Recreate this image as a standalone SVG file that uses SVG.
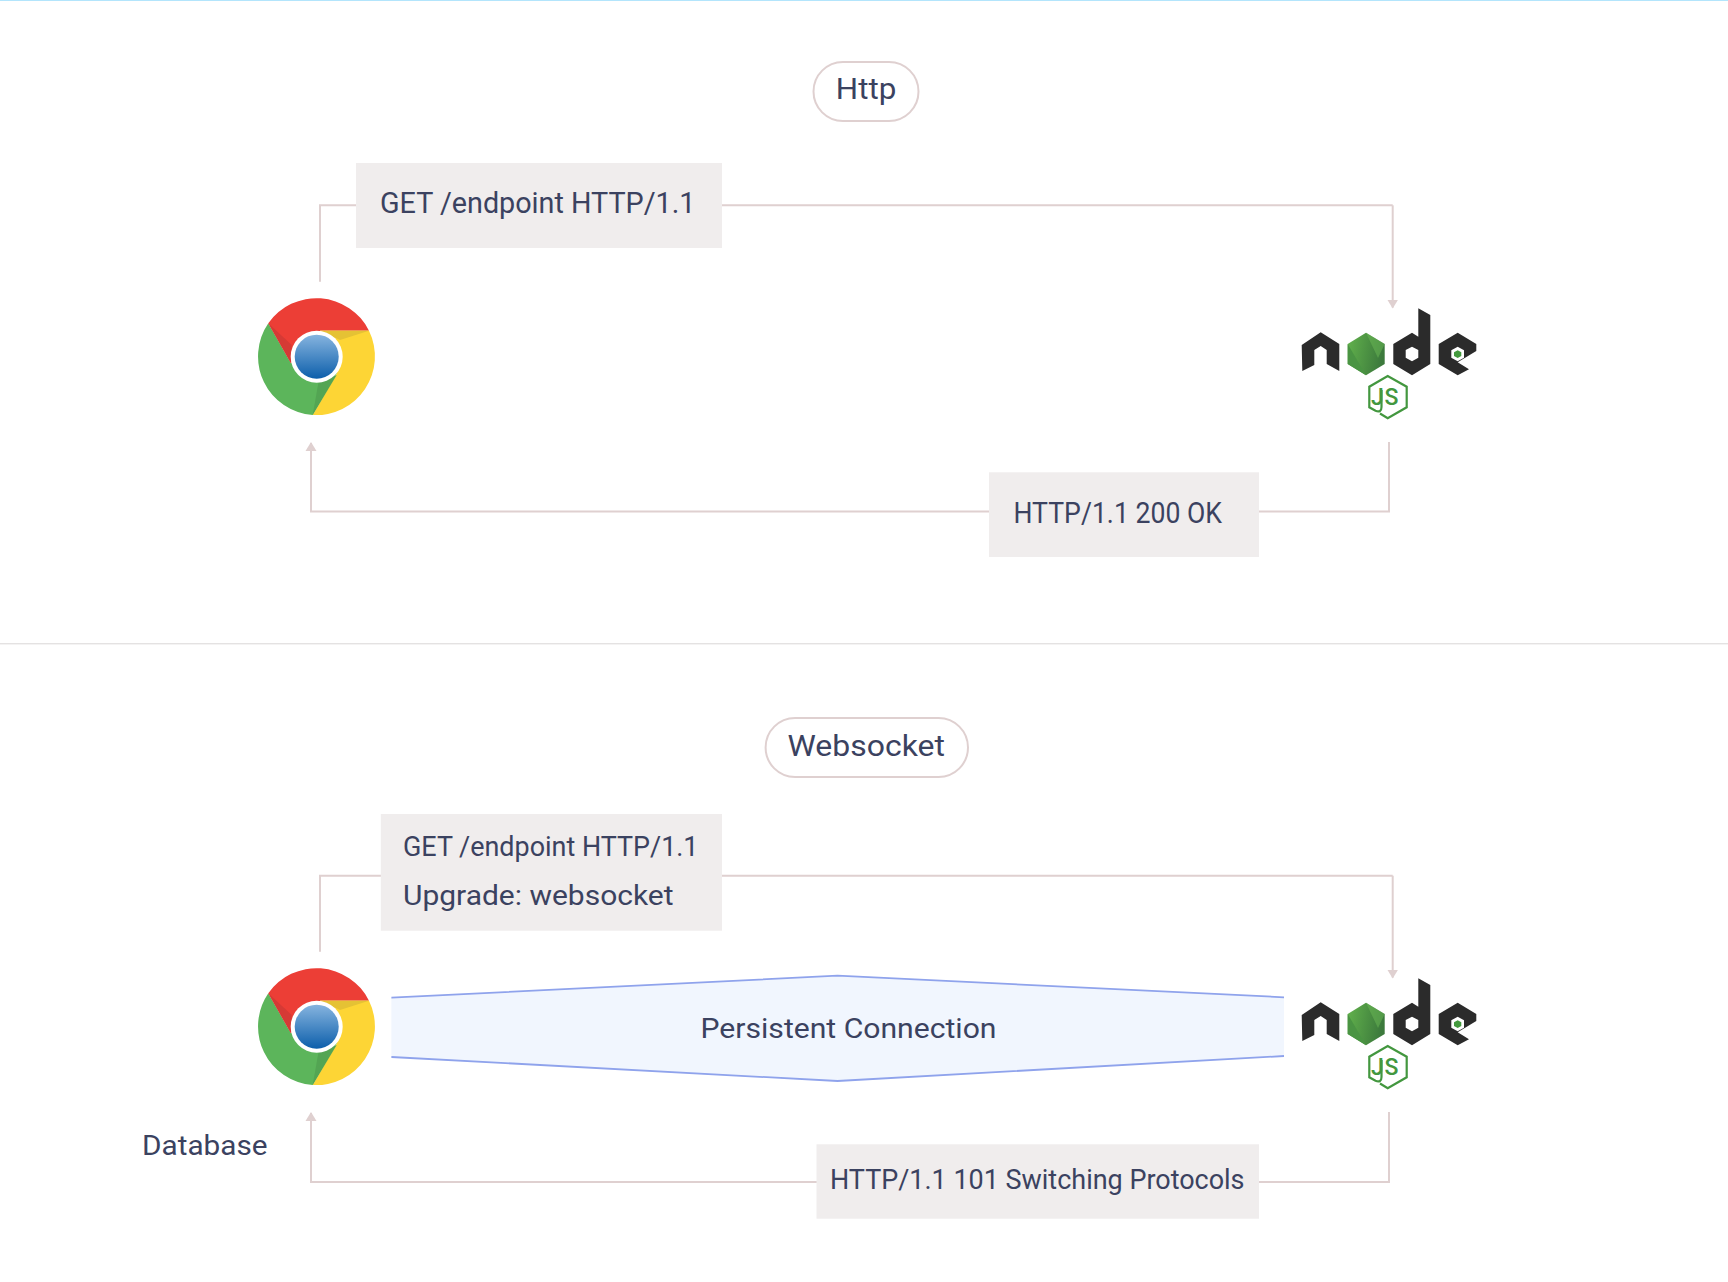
<svg xmlns="http://www.w3.org/2000/svg" width="1728" height="1282" viewBox="0 0 1728 1282">
<style>
.t{font-family:Roboto,"Liberation Sans",sans-serif;fill:#3b4260;font-size:29.5px}
.s{font-size:27.5px}
.box{fill:#f0eded}
.pill{fill:#fff;stroke:#dfd0d0;stroke-width:2}
.c{fill:none;stroke:#dfd0d0;stroke-width:2;marker-end:url(#a)}
.p{fill:none;stroke:#dfd0d0;stroke-width:2}
.dk{fill:#2b2b2b}
</style>
<defs>
<marker id="a" markerUnits="userSpaceOnUse" markerWidth="12" markerHeight="12" refX="8" refY="6" orient="auto"><path d="M0 0.5L9 6L0 11.5z" fill="#dfd0d0"/></marker>
<linearGradient id="b" x1="0" y1="0" x2="0" y2="1"><stop offset="0" stop-color="#86b4df"/><stop offset="1" stop-color="#0d5fab"/></linearGradient>
<linearGradient id="g" x1="0" y1="0" x2="1" y2="0.2"><stop offset="0" stop-color="#62b24c"/><stop offset="1" stop-color="#3c7a3c"/></linearGradient>
<g id="chrome">
<path d="M268.3 323.3A58.7 58.7 0 0 0 312.7 415L337 373L320 345L291 363.3z" fill="#5cb55b"/>
<path d="M268.3 323.3A58.7 58.7 0 0 1 369 330.7H320L291 363.3z" fill="#ec3e36"/>
<path d="M369 330.7A58.7 58.7 0 0 1 312.7 415L337 373L320 330.7z" fill="#fdd535"/>
<path d="M268.3 323.3L291 363.3L291.7 345z" fill="#d53a35"/>
<path d="M320 330.7H369L340 340z" fill="#e5c234"/>
<path d="M312.7 415L336.7 375L318.3 383.3z" fill="#53a553"/>
<circle cx="316.7" cy="356.7" r="26" fill="#fff"/>
<circle cx="316.7" cy="356.7" r="22" fill="url(#b)"/>
</g>
<g id="node">
<path class="dk" d="M1301.7 345L1320.7 332.3L1339.3 344V371L1326.7 364V350L1320.7 346L1314.3 350V365L1302.3 371z"/>
<path fill="url(#g)" d="M1366 332.7L1384.7 344V364L1366 375.3L1347.7 364V344z"/>
<path fill="#4a9443" d="M1347.7 344L1366 375.3L1347.7 364z"/>
<path fill="#6cb955" d="M1366 332.7L1384.7 344L1378 358z" opacity=".5"/>
<path class="dk" fill-rule="evenodd" d="M1418.3 308.3L1430.3 315V364L1412 375.3L1393.3 364V344L1412 332.7L1418.3 336.7zM1412 346.7L1405.7 350V357.7L1412 361.3L1418.3 357.7V350z"/>
<path class="dk" d="M1438.7 344L1457.7 332.7L1476.3 344V351L1457.7 362.3L1469 369.3L1457.7 375.3L1438.7 364z"/>
<path fill="#fff" d="M1457.7 346.7L1464 350.3V357.7L1457.7 361.3L1451.3 357.7V350.3z"/>
<path fill="#439a3d" d="M1457.7 350.3L1461.3 352.3V356L1457.7 358L1454 356V352.3z"/>
<path fill="none" stroke="#43973f" stroke-width="2.2" d="M1380 413.5L1387.7 418.3L1406.7 407.3V386.7L1387.7 376L1369.3 386.7V407.3L1375.5 410.8Q1381.5 413 1381.5 407V390"/>
<text x="1371 1384.5" y="405" font-family="Roboto,sans-serif" font-size="23" font-weight="500" fill="#43973f">JS</text>
</g>
</defs>
<rect width="1728" height="1282" fill="#fff"/>
<rect id="top-rule" width="1728" height="1" fill="#b3e5fc"/>
<rect id="divider" y="643" width="1728" height="1.4" fill="#e4e2e2"/>
<g id="connectors">
<path class="p" d="M320 281.7V205.3H1392.7"/>
<path class="c" d="M1392.7 205.3V307.5"/>
<path class="c" d="M1389 442V511.5H311V443"/>
<path class="p" d="M320 951.7V875.7H1392.7"/>
<path class="c" d="M1392.7 875.7V977.5"/>
<path class="c" d="M1389 1112V1182H311V1113"/>
</g>
<g id="pill-http"><rect class="pill" x="813.5" y="62" width="105" height="59" rx="29.5"/><text class="t" x="835.8" y="99" textLength="60.5" lengthAdjust="spacingAndGlyphs">Http</text></g>
<g id="req-http"><rect class="box" x="356" y="163" width="366" height="85"/><text class="t" x="380" y="213" textLength="315.5" lengthAdjust="spacingAndGlyphs">GET /endpoint HTTP/1.1</text></g>
<g id="chrome-http"><use href="#chrome"/></g>
<g id="node-http"><use href="#node"/></g>
<g id="res-http"><rect class="box" x="989" y="472.3" width="270" height="84.7"/><text class="t" x="1013.5" y="522.5" textLength="208.5" lengthAdjust="spacingAndGlyphs">HTTP/1.1 200 OK</text></g>
<g id="pill-ws"><rect class="pill" x="765.6" y="718" width="202.4" height="59" rx="29.5"/><text class="t" x="787.5" y="756" textLength="157.5" lengthAdjust="spacingAndGlyphs">Websocket</text></g>
<g id="req-ws"><rect class="box" x="380.8" y="814" width="341.2" height="116.7"/><text class="t s" x="403" y="855.5" textLength="295.5" lengthAdjust="spacingAndGlyphs">GET /endpoint HTTP/1.1</text><text class="t s" x="403" y="905" textLength="270.5" lengthAdjust="spacingAndGlyphs">Upgrade: websocket</text></g>
<g id="chrome-ws"><use href="#chrome" y="670"/></g>
<g id="persistent"><path d="M391.4 997.7L837.5 975.7L1284 997.3V1056L837.5 1081L391.4 1057z" fill="#f1f6fe"/><path d="M391.4 997.7L837.5 975.7L1284 997.3M391.4 1057L837.5 1081L1284 1056" fill="none" stroke="#8fa3ec" stroke-width="1.8"/><text class="t s" x="700.5" y="1038" textLength="296" lengthAdjust="spacingAndGlyphs">Persistent Connection</text></g>
<g id="node-ws"><use href="#node" y="670"/></g>
<g id="label-db"><text class="t s" x="142" y="1155" textLength="125.5" lengthAdjust="spacingAndGlyphs">Database</text></g>
<g id="res-ws"><rect class="box" x="816.5" y="1144.3" width="442.5" height="74.4"/><text class="t s" x="830" y="1189" textLength="414.5" lengthAdjust="spacingAndGlyphs">HTTP/1.1 101 Switching Protocols</text></g>
</svg>
